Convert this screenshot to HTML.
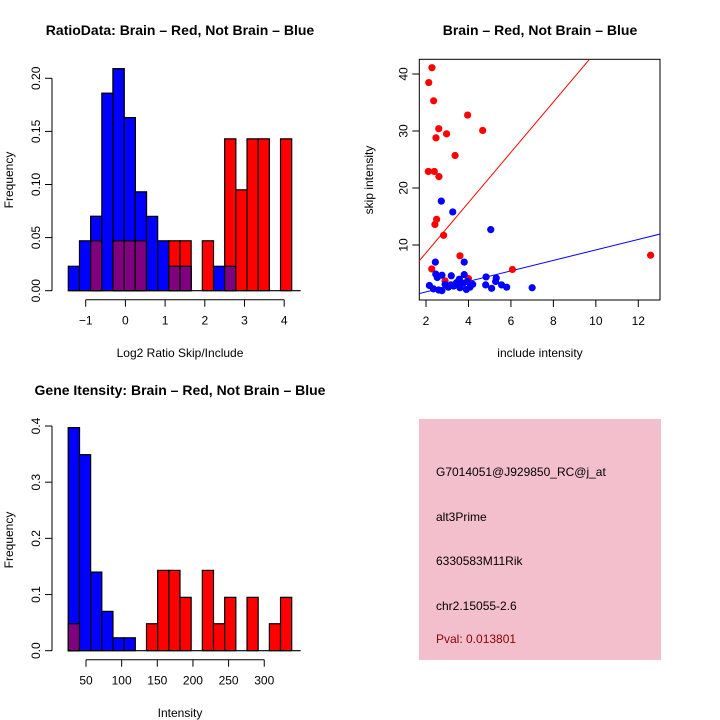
<!DOCTYPE html>
<html><head><meta charset="utf-8"><style>
body{margin:0;background:#fff}
svg{display:block;font-family:"Liberation Sans",sans-serif}
</style></head><body>
<svg id="s" width="720" height="720" viewBox="0 0 720 720" xmlns="http://www.w3.org/2000/svg">
<text x="180" y="35" text-anchor="middle" font-size="14" font-weight="bold">RatioData: Brain – Red, Not Brain – Blue</text>
<text x="540" y="35" text-anchor="middle" font-size="14" font-weight="bold">Brain – Red, Not Brain – Blue</text>
<text x="180" y="395" text-anchor="middle" font-size="14" font-weight="bold">Gene Itensity: Brain – Red, Not Brain – Blue</text>
<text x="180" y="357" text-anchor="middle" font-size="12">Log2 Ratio Skip/Include</text>
<text x="540" y="357" text-anchor="middle" font-size="12">include intensity</text>
<text x="180" y="717" text-anchor="middle" font-size="12">Intensity</text>
<text transform="translate(13,180) rotate(-90)" text-anchor="middle" font-size="12">Frequency</text>
<text transform="translate(373,180) rotate(-90)" text-anchor="middle" font-size="12">skip intensity</text>
<text transform="translate(13,540) rotate(-90)" text-anchor="middle" font-size="12">Frequency</text>
<g>
<rect x="419" y="419" width="242" height="241" fill="#f3bfcc"/>
<text x="436" y="476" font-size="12">G7014051@J929850_RC@j_at</text>
<text x="436" y="521" font-size="12">alt3Prime</text>
<text x="436" y="565" font-size="12">6330583M11Rik</text>
<text x="436" y="610" font-size="12">chr2.15055-2.6</text>
<text x="436" y="643" font-size="12" fill="#8b0000">Pval: 0.013801</text>
</g>
</svg>
<script>
// Chart 1: ratio histogram
const ratioBlue=[0.023,0.047,0.070,0.186,0.209,0.163,0.093,0.070,0.047,0.023,0.023,0,0,0.023,0.023,0,0,0,0,0];
const ratioRed=[0,0,0.047,0,0.047,0.047,0.047,0,0,0.047,0.047,0,0.047,0,0.143,0.095,0.143,0.143,0,0.143];
const ratioXTicks=[-1,0,1,2,3,4];
const ratioYTicks=[0,0.05,0.10,0.15,0.20];
const ratioYLabels=["0.00","0.05","0.10","0.15","0.20"];
// Chart 3: intensity histogram
const intBlue=[0.397,0.349,0.140,0.070,0.023,0.023,0,0,0,0,0,0,0,0,0,0,0,0,0,0];
const intRed=[0.048,0,0,0,0,0,0,0.048,0.143,0.143,0.095,0,0.143,0.048,0.095,0,0.095,0,0.048,0.095];
const intXTicks=[50,100,150,200,250,300];
const intYTicks=[0,0.1,0.2,0.3,0.4];
const intYLabels=["0.0","0.1","0.2","0.3","0.4"];
// Chart 2: scatter
const redX=[2.28,2.13,2.36,3.96,4.67,2.6,2.97,2.47,3.37,2.11,2.39,2.61,2.5,2.42,2.83,3.6,2.27,6.07,2.9,4.0,12.58];
const redY=[41.1,38.5,35.3,32.8,30.1,30.4,29.5,28.8,25.7,22.9,22.9,22.0,14.5,13.6,11.7,8.1,5.8,5.7,3.7,4.1,8.2];
const blueX=[2.72,3.26,5.05,2.44,3.8,2.46,2.53,2.75,3.19,3.8,4.83,5.31,5.28,3.57,3.44,3.95,4.2,2.16,2.35,2.6,2.9,3.05,3.3,3.6,3.9,2.75,4.81,5.09,5.56,5.8,7.0,3.18,3.75,4.07];
const blueY=[17.7,15.8,12.7,7.0,7.0,4.9,4.3,4.7,4.6,4.8,4.4,4.2,3.6,4.0,3.4,3.6,3.1,2.9,2.3,2.1,3.1,2.6,2.8,2.5,2.2,2.0,3.0,2.4,3.0,2.6,2.5,3.0,3.3,2.6];
const scXTicks=[2,4,6,8,10,12];
const scYTicks=[10,20,30,40];
const redFit=[-0.2,4.41];
const blueFit=[-0.06,0.92];

const NS="http://www.w3.org/2000/svg";
const svg=document.getElementById('s');
function mk(tag,attrs){const e=document.createElementNS(NS,tag);for(const k in attrs)e.setAttribute(k,attrs[k]);svg.appendChild(e);return e;}

function hist(blue,red,x0,binW,yBase,yScale,xTicks,xMap,yTicks,yLabels,prefix){
  for(let i=0;i<blue.length;i++){
    const x=x0+i*binW;
    const b=blue[i],r=red[i],m=Math.min(b,r);
    if(b>0){const e=mk('rect',{x:x,y:yBase-b*yScale,width:binW,height:b*yScale,fill:'#0000ff',stroke:'#000','stroke-width':1.2});
      
      }
    if(r>0){const e=mk('rect',{x:x,y:yBase-r*yScale,width:binW,height:r*yScale,fill:'#ff0000',stroke:'#000','stroke-width':1.2});
      
      }
    if(b>0&&r>0){const top=Math.max(b,r);
      if(top===b){const e=mk('rect',{x:x,y:yBase-b*yScale,width:binW,height:b*yScale,fill:'#0000ff',stroke:'#000','stroke-width':1.2});
        
        }
      const e=mk('rect',{x:x,y:yBase-m*yScale,width:binW,height:m*yScale,fill:'#800080',stroke:'#000','stroke-width':1.2});
      
      }
  }
  const bl=mk('line',{x1:x0,x2:x0+blue.length*binW+9,y1:yBase,y2:yBase,stroke:'#000','stroke-width':1.2});
  
  
  const xa=mk('line',{x1:xMap(xTicks[0]),x2:xMap(xTicks[xTicks.length-1]),y1:yBase+9,y2:yBase+9,stroke:'#000'});
  
  
  xTicks.forEach(t=>{const X=xMap(t);
    mk('line',{x1:X,x2:X,y1:yBase+9,y2:yBase+16,stroke:'#000'});
    const tx=mk('text',{x:X,y:yBase+34,'text-anchor':'middle','font-size':12});tx.textContent=t<0?'−'+(-t):t;
    
    });
  const ya=mk('line',{x1:52,x2:52,y1:yBase,y2:yBase-yTicks[yTicks.length-1]*yScale,stroke:'#000'});
  
  
  yTicks.forEach((t,i)=>{const Y=yBase-t*yScale;
    mk('line',{x1:45,x2:52,y1:Y,y2:Y,stroke:'#000'});
    const tx=mk('text',{transform:`translate(40,${Y}) rotate(-90)`,'text-anchor':'middle','font-size':12});tx.textContent=yLabels[i];
    
    });
}
hist(ratioBlue,ratioRed,68.3,11.17,290.7,1062,ratioXTicks,v=>125.4+v*39.7,ratioYTicks,ratioYLabels,'ratio');
hist(intBlue,intRed,68.3,11.17,650.7,561.7,intXTicks,v=>86+(v-50)*0.713,intYTicks,intYLabels,'intensity');

// scatter
const L=419.3,R=660,T=59.3,B=300;
const sx=v=>426+(v-2)*21.23, sy=v=>245-(v-10)*5.7;
const cp=mk('clipPath',{id:'cp'});const cr=document.createElementNS(NS,'rect');
cr.setAttribute('x',L);cr.setAttribute('y',T);cr.setAttribute('width',R-L);cr.setAttribute('height',B-T);cp.appendChild(cr);
const box=mk('rect',{x:L,y:T,width:R-L,height:B-T,fill:'none',stroke:'#000'});


scXTicks.forEach(t=>{const X=sx(t);mk('line',{x1:X,x2:X,y1:B,y2:B+7,stroke:'#000'});
  const tx=mk('text',{x:X,y:B+25,'text-anchor':'middle','font-size':12});tx.textContent=t;
  
  });
scYTicks.forEach(t=>{const Y=sy(t);mk('line',{x1:L-7,x2:L,y1:Y,y2:Y,stroke:'#000'});
  const tx=mk('text',{transform:`translate(${L-12},${Y}) rotate(-90)`,'text-anchor':'middle','font-size':12});tx.textContent=t;
  
  });
[[redFit,'#ff0000','red-fit-line'],[blueFit,'#0000ff','blue-fit-line']].forEach(([f,c,n])=>{
  const ln=mk('line',{x1:sx(1),y1:sy(f[0]+f[1]*1),x2:sx(14),y2:sy(f[0]+f[1]*14),stroke:c,'clip-path':'url(#cp)'});
  
  });
redX.forEach((v,i)=>{const c=mk('circle',{cx:sx(v),cy:sy(redY[i]),r:3.6,fill:'#ff0000'});
  
  });
blueX.forEach((v,i)=>{const c=mk('circle',{cx:sx(v),cy:sy(blueY[i]),r:3.6,fill:'#0000ff'});
  
  });
</script>
</body></html>
